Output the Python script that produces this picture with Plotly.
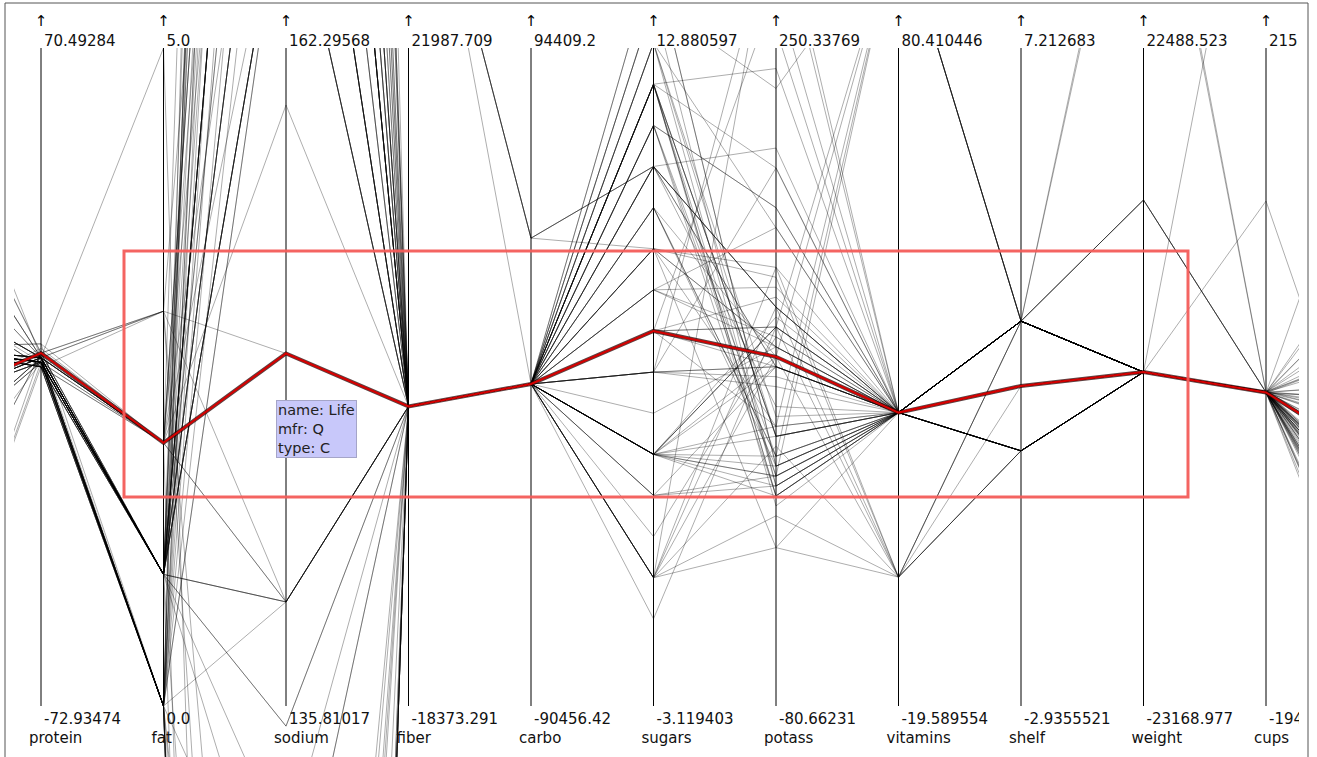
import plotly.graph_objects as go

# ---------------- data (cereals; last eight rows are unnamed outlier records) ----------------
NAMES = ["100% Bran", "100% Natural Bran", "All-Bran", "All-Bran with Extra Fiber", "Almond Delight",
         "Apple Cinnamon Cheerios", "Apple Jacks", "Basic 4", "Bran Chex", "Bran Flakes", "Cap'n'Crunch",
         "Cheerios", "Cinnamon Toast Crunch", "Clusters", "Cocoa Puffs", "Corn Chex", "Corn Flakes",
         "Corn Pops", "Count Chocula", "Cracklin' Oat Bran", "Cream of Wheat (Quick)", "Crispix",
         "Crispy Wheat & Raisins", "Double Chex", "Froot Loops", "Frosted Flakes", "Frosted Mini-Wheats",
         "Fruit & Fibre Dates; Walnuts; and Oats", "Fruitful Bran", "Fruity Pebbles", "Golden Crisp",
         "Golden Grahams", "Grape Nuts Flakes", "Grape-Nuts", "Great Grains Pecan", "Honey Graham Ohs",
         "Honey Nut Cheerios", "Honey-comb", "Just Right Crunchy  Nuggets", "Just Right Fruit & Nut", "Kix",
         "Life", "Lucky Charms", "Maypo", "Muesli Raisins; Dates; & Almonds", "Muesli Raisins; Peaches; & Pecans",
         "Mueslix Crispy Blend", "Multi-Grain Cheerios", "Nut&Honey Crunch", "Nutri-Grain Almond-Raisin",
         "Nutri-grain Wheat", "Oatmeal Raisin Crisp", "Post Nat. Raisin Bran", "Product 19", "Puffed Rice",
         "Puffed Wheat", "Quaker Oat Squares", "Quaker Oatmeal", "Raisin Bran", "Raisin Nut Bran",
         "Raisin Squares", "Rice Chex", "Rice Krispies", "Shredded Wheat", "Shredded Wheat 'n'Bran",
         "Shredded Wheat spoon size", "Smacks", "Special K", "Strawberry Fruit Wheats", "Total Corn Flakes",
         "Total Raisin Bran", "Total Whole Grain", "Triples", "Trix", "Wheat Chex", "Wheaties",
         "Wheaties Honey Gold", "", "", "", "", "", "", "", ""]
MFR = ["N", "Q", "K", "K", "R", "G", "K", "G", "R", "P", "Q", "G", "G", "G", "G", "R", "K", "K", "G", "K",
       "N", "K", "G", "R", "K", "K", "K", "P", "K", "P", "P", "G", "P", "P", "P", "Q", "G", "P", "K", "K",
       "G", "Q", "G", "A", "R", "R", "K", "G", "K", "K", "K", "G", "P", "K", "Q", "Q", "Q", "Q", "K", "G",
       "K", "R", "K", "N", "N", "N", "K", "K", "N", "G", "G", "G", "G", "G", "R", "G", "G",
       "", "", "", "", "", "", "", ""]
TYPE = ["C"] * 20 + ["H"] + ["C"] * 22 + ["H"] + ["C"] * 13 + ["H"] + ["C"] * 19 + [""] * 8
CALORIES = [70, 120, 70, 50, 110, 110, 110, 130, 90, 90, 120, 110, 120, 110, 110, 110, 100, 110, 110, 110,
            100, 110, 100, 100, 110, 110, 100, 120, 120, 110, 100, 110, 100, 110, 120, 120, 110, 110, 110, 140,
            110, 100, 110, 100, 150, 150, 160, 100, 120, 140, 90, 130, 120, 100, 50, 50, 100, 100, 120, 100,
            90, 110, 110, 80, 90, 90, 110, 110, 90, 110, 140, 100, 110, 110, 100, 100, 110,
            110, 110, 110, 110, 110, 110, 110, 110]
PROTEIN = [4, 3, 4, 4, 2, 2, 2, 3, 2, 3, 1, 6, 1, 3, 1, 2, 2, 1, 1, 3, 3, 2, 2, 2, 2, 1, 3, 3, 3, 1, 2, 1,
           3, 3, 3, 1, 3, 1, 2, 3, 2, 4, 2, 4, 4, 4, 3, 2, 2, 3, 3, 3, 3, 3, 1, 2, 4, 5, 3, 3, 2, 1, 2, 2,
           3, 3, 2, 6, 2, 2, 3, 3, 2, 1, 3, 3, 2,
           3, 3, 3, 3, 2, 2, 3, 3]
FAT = [1, 5, 1, 0, 2, 2, 0, 2, 1, 0, 2, 2, 3, 2, 1, 0, 0, 0, 1, 3, 0, 0, 1, 0, 1, 0, 0, 2, 0, 1, 0, 1, 1,
       0, 3, 2, 1, 0, 1, 1, 1, 2, 1, 1, 3, 3, 2, 1, 1, 2, 0, 2, 1, 0, 0, 0, 1, 2, 1, 2, 0, 0, 0, 0, 0, 0,
       1, 0, 0, 1, 1, 1, 1, 1, 1, 1, 1,
       1, 1, 1, 1, 1, 1, 1, 1]
SODIUM = [130, 15, 260, 140, 200, 180, 125, 210, 200, 210, 220, 290, 210, 140, 180, 280, 290, 90, 180, 140,
          80, 220, 140, 190, 125, 200, 0, 160, 240, 135, 45, 280, 140, 170, 75, 220, 250, 180, 170, 170,
          260, 150, 180, 0, 95, 150, 150, 220, 190, 220, 170, 170, 200, 320, 0, 0, 135, 0, 210, 140, 0, 240,
          290, 0, 0, 0, 70, 230, 15, 200, 190, 200, 250, 140, 230, 200, 200,
          170, 170, 200, 200, 180, 180, 170, 170]
FIBER = [10, 2, 9, 14, 1, 1.5, 1, 2, 4, 5, 0, 2, 0, 2, 0, 0, 1, 1, 0, 4, 1, 1, 2, 1, 1, 1, 3, 5, 5, 0, 0, 0,
         3, 3, 3, 1, 1.5, 0, 1, 2, 0, 2, 0, 0, 3, 3, 3, 2, 0, 3, 3, 1.5, 6, 1, 0, 1, 2, 2.7, 5, 2.5, 2, 0, 0,
         3, 4, 3, 1, 1, 3, 0, 4, 3, 0, 0, 3, 3, 1,
         39200, 39200, 41700, 3, 0, 0, 39200, 39200]
CARBO = [5, 8, 7, 8, 14, 10.5, 11, 18, 15, 13, 12, 17, 13, 13, 12, 22, 21, 13, 12, 10, 21, 21, 11, 18, 11,
         14, 14, 12, 14, 13, 11, 15, 15, 17, 13, 12, 11.5, 14, 17, 20, 21, 12, 12, 16, 16, 16, 17, 15, 15, 21,
         18, 13.5, 11, 20, 13, 10, 14, -1, 14, 10.5, 15, 23, 22, 16, 19, 20, 9, 16, 15, 21, 15, 16, 21, 13,
         17, 17, 16,
         40990, 40990, 15, 16, 12, 12, 40990, 40990]
SUGARS = [6, 8, 5, 0, 8, 10, 14, 8, 6, 5, 12, 1, 9, 7, 13, 3, 2, 12, 13, 7, 0, 3, 10, 5, 13, 11, 7, 10, 12,
          12, 15, 9, 5, 3, 4, 11, 10, 11, 6, 9, 3, 6, 12, 3, 11, 11, 13, 6, 9, 7, 2, 10, 14, 3, 0, 0, 6, -1,
          12, 8, 6, 2, 3, 0, 0, 0, 15, 3, 5, 3, 14, 3, 3, 12, 3, 3, 8,
          10, 8, 5, 3, 12, 12, 10, 10]
POTASS = [280, 135, 320, 330, -1, 70, 30, 100, 125, 190, 35, 105, 45, 105, 55, 25, 35, 20, 65, 160, -1, 30,
          120, 80, 30, 25, 100, 200, 190, 25, 40, 45, 85, 90, 100, 45, 90, 35, 60, 95, 40, 95, 55, 95, 170,
          170, 160, 90, 40, 130, 90, 120, 260, 45, 15, 50, 110, 110, 240, 140, 110, 30, 35, 95, 140, 120, 40,
          55, 90, 35, 230, 110, 60, 25, 115, 110, 60,
          120, 100, 90, 110, 55, 55, 120, 90]
VITAMINS = [25, 0, 25, 25, 25, 25, 25, 25, 25, 25, 25, 25, 25, 25, 25, 25, 25, 25, 25, 25, 0, 25, 25, 25, 25,
            25, 25, 25, 25, 25, 25, 25, 25, 25, 25, 25, 25, 25, 100, 100, 25, 25, 25, 25, 25, 25, 25, 25, 25,
            25, 25, 25, 25, 100, 0, 0, 25, 0, 25, 25, 25, 25, 25, 0, 0, 0, 25, 25, 25, 100, 100, 100, 25, 25,
            25, 25, 25,
            25, 25, 25, 25, 25, 25, 25, 25]
SHELF = [3, 3, 3, 3, 3, 1, 2, 3, 1, 3, 2, 1, 2, 3, 2, 1, 1, 2, 2, 3, 2, 3, 3, 3, 2, 1, 2, 3, 3, 2, 1, 2, 3,
         3, 3, 2, 1, 1, 3, 3, 2, 2, 2, 2, 3, 3, 3, 1, 2, 3, 3, 3, 3, 3, 3, 3, 3, 1, 2, 3, 3, 1, 1, 1, 1, 1, 2,
         1, 2, 3, 3, 3, 3, 2, 1, 1, 1,
         3, 3, 3, 3, 2, 2, 3, 3]
WEIGHT = [1, 1, 1, 1, 1, 1, 1, 1.33, 1, 1, 1, 1, 1, 1, 1, 1, 1, 1, 1, 1, 1, 1, 1, 1, 1, 1, 1, 1.25, 1.33, 1,
          1, 1, 1, 1, 1, 1, 1, 1, 1, 1.3, 1, 1, 1, 1, 1, 1, 1.5, 1, 1, 1.33, 1, 1.25, 1.33, 1, 0.5, 0.5, 1,
          1, 1.33, 1, 1, 1, 1, 0.83, 1, 1, 1, 1, 1, 1, 1.5, 1, 1, 1, 1, 1, 1,
          11942, 11942, 42600, 43400, 1, 1, 11942, 11942]
CUPS = [0.33, 1, 0.33, 0.5, 0.75, 0.75, 1, 0.75, 0.67, 0.67, 0.75, 1.25, 0.75, 0.5, 1, 1, 1, 1, 1, 0.5, 1, 1,
        0.75, 0.75, 1, 0.75, 0.8, 0.67, 0.67, 0.75, 0.88, 0.75, 0.88, 0.25, 0.33, 1, 0.75, 1.33, 1, 0.75,
        1.5, 0.67, 1, 1, 1, 1, 0.67, 1, 0.67, 0.67, 1, 0.5, 0.67, 1, 1, 1, 0.5, 0.67, 0.75, 0.5, 0.5, 1.13,
        1, 1, 0.67, 0.67, 0.75, 1, 1, 1, 1, 1, 0.75, 1, 0.67, 1, 0.75,
        0.75, 0.75, 1, 1, 120, 408, 0.75, 0.75]
RATING = [68.40, 33.98, 59.43, 93.70, 34.38, 29.51, 33.17, 37.04, 49.12, 53.31, 18.04, 50.76, 19.82, 40.40,
          22.74, 41.45, 45.86, 35.78, 22.40, 40.45, 64.53, 46.90, 36.18, 44.33, 32.21, 31.44, 58.35, 40.92,
          41.02, 28.03, 35.25, 23.80, 52.08, 53.37, 45.81, 21.87, 31.07, 28.74, 36.52, 36.47, 39.24, 45.33,
          26.73, 54.85, 37.14, 34.14, 30.31, 40.11, 29.92, 40.69, 59.64, 30.45, 37.84, 41.50, 60.76, 63.01,
          49.51, 50.83, 39.26, 39.70, 55.33, 42.00, 40.56, 68.24, 74.47, 72.80, 31.23, 53.13, 59.36, 38.84,
          28.59, 46.66, 39.11, 27.75, 49.79, 51.59, 36.19,
          38.0, 38.0, 45.0, 45.0, 35.4, 30.0, 38.0, 38.0]

# axes (calories and rating lie outside the visible window)
AXES = ["calories", "protein", "fat", "sodium", "fiber", "carbo", "sugars", "potass",
        "vitamins", "shelf", "weight", "cups", "rating"]
AXIS_MIN = [50.0, -72.93474, 0.0, 135.81017, -18373.291, -90456.42, -3.119403, -80.66231,
            -19.589554, -2.9355521, -23168.977, -194.80937, 18.042851]
AXIS_MAX = [160.0, 70.49284, 5.0, 162.29568, 21987.709, 94409.2, 12.880597, 250.33769,
            80.410446, 7.212683, 22488.523, 215.41776, 93.704912]
MIN_LABELS = ["50.0", "-72.93474", "0.0", "135.81017", "-18373.291", "-90456.42", "-3.119403", "-80.66231",
              "-19.589554", "-2.9355521", "-23168.977", "-194.80937", "18.042851"]
MAX_LABELS = ["160.0", "70.49284", "5.0", "162.29568", "21987.709", "94409.2", "12.880597", "250.33769",
              "80.410446", "7.212683", "22488.523", "215.41776", "93.704912"]
HIGHLIGHT = "Life"

COLUMNS = [CALORIES, PROTEIN, FAT, SODIUM, FIBER, CARBO, SUGARS, POTASS, VITAMINS, SHELF, WEIGHT, CUPS, RATING]

# ---------------- geometry (pixels) ----------------
W, H = 1317, 757
AX_X0, AX_DX = 41.0, 122.5          # pixel x of "protein" axis and spacing
Y_TOP, Y_BOT = 48.0, 706.0          # pixel y of axis max / min
CLIP_L, CLIP_R, CLIP_T = 14.0, 1299.0, 48.0
FONT = "DejaVu Sans"

axis_pos = list(range(-1, len(AXES) - 1))   # calories at -1, protein at 0, ... rating at 11


def px_x(i):
    return AX_X0 + AX_DX * i


def norm(v, k):
    return (v - AXIS_MIN[k]) / (AXIS_MAX[k] - AXIS_MIN[k])


fig = go.Figure()

hi_idx = NAMES.index(HIGHLIGHT)
for r in range(len(NAMES)):
    if r == hi_idx:
        continue
    fig.add_trace(go.Scatter(
        x=axis_pos, y=[norm(COLUMNS[k][r], k) for k in range(len(AXES))],
        mode="lines", line=dict(color="rgba(0,0,0,0.32)", width=1),
        hoverinfo="skip", showlegend=False, xaxis="x", yaxis="y"))

hy = [norm(COLUMNS[k][hi_idx], k) for k in range(len(AXES))]
fig.add_trace(go.Scatter(x=axis_pos, y=hy, mode="lines",
                         line=dict(color="rgba(40,0,0,0.75)", width=4.0),
                         hoverinfo="skip", showlegend=False, xaxis="x", yaxis="y"))
fig.add_trace(go.Scatter(x=axis_pos, y=hy, mode="lines",
                         line=dict(color="rgb(215,0,0)", width=2.0),
                         hoverinfo="skip", showlegend=False, xaxis="x", yaxis="y"))

# axis labels (on a pixel-space overlay subplot so they clip at the frame)
vis = range(1, len(AXES) - 1)
lab_x, lab_y, lab_t = [], [], []
for k in vis:
    xp = px_x(axis_pos[k])
    lab_x += [xp + 3, xp + 3, xp - 12]
    lab_y += [42, 720, 739]
    lab_t += [MAX_LABELS[k], MIN_LABELS[k], AXES[k]]
fig.add_trace(go.Scatter(x=lab_x, y=lab_y, text=lab_t, mode="text", textposition="middle right",
                         textfont=dict(family=FONT, size=15, color="#111"),
                         cliponaxis=True, hoverinfo="skip", showlegend=False,
                         xaxis="x2", yaxis="y2"))
fig.add_trace(go.Scatter(x=[px_x(axis_pos[k]) for k in vis], y=[22] * len(vis),
                         text=["\u2191"] * len(vis), mode="text", textposition="middle center",
                         textfont=dict(family=FONT, size=15, color="#000"),
                         cliponaxis=True, hoverinfo="skip", showlegend=False,
                         xaxis="x2", yaxis="y2"))

shapes = []
for k in vis:
    shapes.append(dict(type="line", xref="x", yref="y", x0=axis_pos[k], x1=axis_pos[k], y0=0, y1=1,
                       line=dict(color="#000", width=1), layer="below"))
# outer frame
shapes.append(dict(type="rect", xref="paper", yref="paper", x0=5 / W, x1=1308 / W, y0=1 - 3 / H, y1=-0.05,
                   line=dict(color="#555", width=1), layer="above"))
# annotation rectangle
shapes.append(dict(type="rect", xref="paper", yref="paper", x0=124 / W, x1=1188 / W,
                   y0=1 - 251 / H, y1=1 - 497 / H,
                   line=dict(color="rgba(243,92,88,0.95)", width=3), layer="above"))

fig.update_layout(
    width=W, height=H, margin=dict(l=0, r=0, t=0, b=0),
    paper_bgcolor="white", plot_bgcolor="rgba(0,0,0,0)", showlegend=False,
    xaxis=dict(domain=[CLIP_L / W, CLIP_R / W], range=[(CLIP_L - AX_X0) / AX_DX, (CLIP_R - AX_X0) / AX_DX],
               visible=False, fixedrange=True),
    yaxis=dict(domain=[0, 1 - CLIP_T / H], range=[(Y_BOT - H) / (Y_BOT - Y_TOP), 1],
               visible=False, fixedrange=True),
    xaxis2=dict(domain=[0, CLIP_R / W], range=[0, CLIP_R], visible=False, fixedrange=True, anchor="y2"),
    yaxis2=dict(domain=[0, 1], range=[H, 0], visible=False, fixedrange=True, anchor="x2"),
    shapes=shapes,
    annotations=[dict(xref="paper", yref="paper", x=276 / W, y=1 - 400 / H, xanchor="left", yanchor="top",
                      text="name: " + HIGHLIGHT + "<br>mfr: " + MFR[hi_idx] + "<br>type: " + TYPE[hi_idx],
                      align="left", showarrow=False, bgcolor="rgb(200,200,250)",
                      bordercolor="rgb(165,165,200)", borderwidth=1, borderpad=1,
                      font=dict(family=FONT, size=14.5, color="#222"))],
)

fig.write_html("out.html", config={"displayModeBar": False},
               post_script="document.body.style.margin='0';")
